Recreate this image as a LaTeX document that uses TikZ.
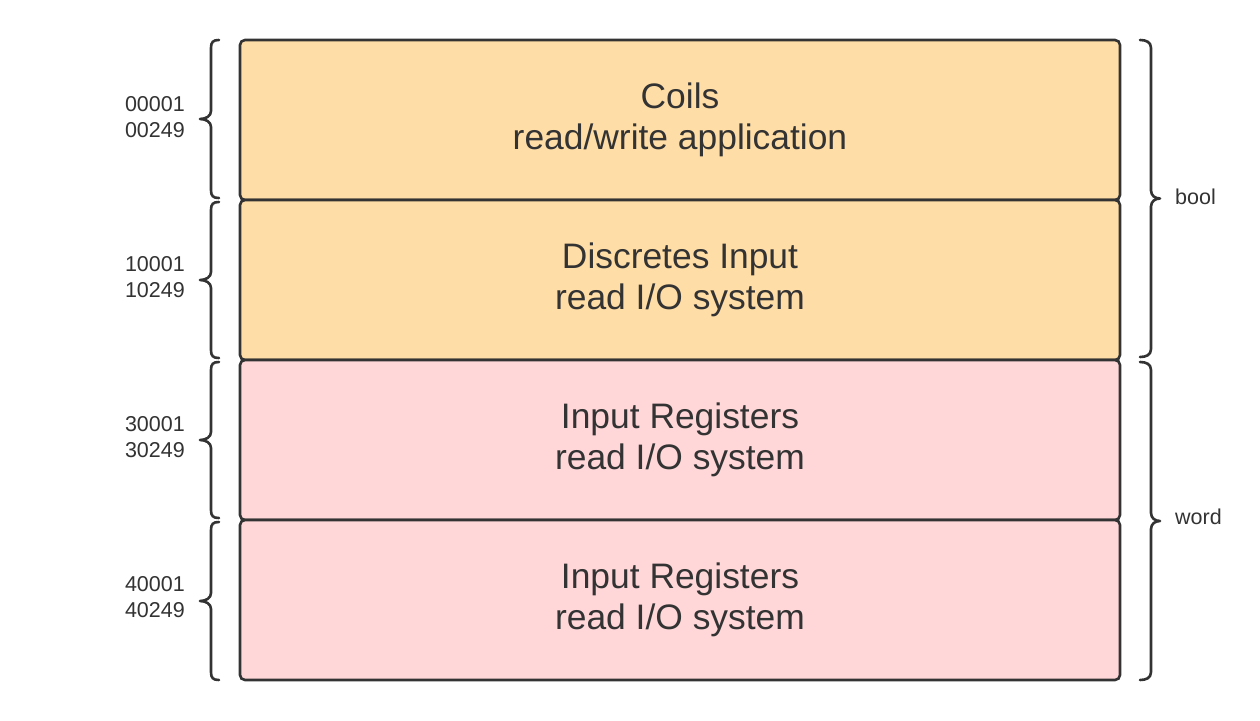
\documentclass[tikz,border=0pt]{standalone}
\usepackage{fontspec}
\setmainfont{Liberation Sans}
\definecolor{ink}{HTML}{333333}
\definecolor{boolfill}{HTML}{FFDDA6}
\definecolor{wordfill}{HTML}{FFD7D9}
\tikzset{
  regbox/.style={draw=ink, line width=2.6pt, rounded corners=5pt,
    minimum width=880pt, minimum height=160pt, inner sep=0pt,
    text=ink, align=center, font=\fontsize{35.4}{41}\selectfont},
  addr/.style={text=ink, anchor=east, align=right, inner sep=0pt,
    font=\fontsize{21.5}{26}\selectfont},
  kind/.style={text=ink, anchor=west, inner sep=0pt,
    font=\fontsize{21.5}{26}\selectfont},
  brace/.style={draw=ink, line width=2.6pt, line cap=round, line join=round}
}
% left brace: top y, bottom y (tip points left)
\newcommand{\leftbrace}[2]{%
  \draw[brace] (219,#1) .. controls (213,#1) and (211,#1+2) .. (211,#1+8)
    -- (211,{(#1+#2)/2-8}) .. controls (211,{(#1+#2)/2-3}) and (206,{(#1+#2)/2}) .. (200,{(#1+#2)/2})
    .. controls (206,{(#1+#2)/2}) and (211,{(#1+#2)/2+3}) .. (211,{(#1+#2)/2+8})
    -- (211,#2-8) .. controls (211,#2-2) and (213,#2) .. (219,#2);}
% right brace: top y, bottom y (tip points right)
\newcommand{\rightbrace}[2]{%
  \draw[brace] (1140,#1) .. controls (1146,#1) and (1151,#1+2) .. (1151,#1+8)
    -- (1151,{(#1+#2)/2-8}) .. controls (1151,{(#1+#2)/2-3}) and (1155,{(#1+#2)/2}) .. (1160,{(#1+#2)/2})
    .. controls (1155,{(#1+#2)/2}) and (1151,{(#1+#2)/2+3}) .. (1151,{(#1+#2)/2+8})
    -- (1151,#2-8) .. controls (1151,#2-2) and (1146,#2) .. (1140,#2);}
\begin{document}
\begin{tikzpicture}[x=1pt, y=-1pt]
\useasboundingbox[fill=white] (0,0) rectangle (1260,720);

% register blocks
\node[regbox, fill=boolfill] (coils) at (680,120) {Coils\\read/write application};
\node[regbox, fill=boolfill] (discrete) at (680,280) {Discretes Input\\read I/O system};
\node[regbox, fill=wordfill] (inreg) at (680,440) {Input Registers\\read I/O system};
\node[regbox, fill=wordfill] (holdreg) at (680,600) {Input Registers\\read I/O system};

% address ranges
\node[addr] (a1) at (185,117) {00001\\00249};
\node[addr] (a2) at (185,277) {10001\\10249};
\node[addr] (a3) at (185,437) {30001\\30249};
\node[addr] (a4) at (185,597) {40001\\40249};

\leftbrace{40}{198}
\leftbrace{202}{358}
\leftbrace{362}{518}
\leftbrace{522}{680}

% data types
\rightbrace{40}{357}
\rightbrace{362}{680}
\node[kind] (tbool) at (1175,197) {bool};
\node[kind] (tword) at (1175,517) {word};
\end{tikzpicture}
\end{document}
